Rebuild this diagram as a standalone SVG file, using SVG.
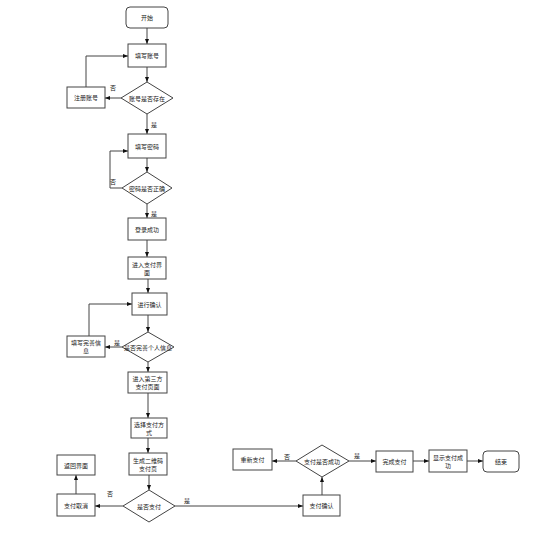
<svg xmlns="http://www.w3.org/2000/svg" width="554" height="534" viewBox="0 0 554 534">
<style>
.n{fill:#fff;stroke:#444;stroke-width:1}
.t{font-family:"Noto Sans CJK SC","Noto Sans",sans-serif;font-size:6px;fill:#222;text-anchor:middle;dominant-baseline:central}
.e{fill:none;stroke:#444;stroke-width:1}
.l{font-family:"Noto Sans CJK SC","Noto Sans",sans-serif;font-size:6px;fill:#222;text-anchor:middle;dominant-baseline:central}
</style>
<defs>
<marker id="a" viewBox="0 0 10 10" refX="10" refY="5" markerWidth="5" markerHeight="5" orient="auto" markerUnits="userSpaceOnUse">
<path d="M0,1 L10,5 L0,9 Z" fill="#111"/>
</marker>
</defs>
<rect width="554" height="534" fill="#fff"/>
<g id="edges">
<path class="e" d="M147,28 V44" marker-end="url(#a)"/>
<path class="e" d="M147,67 V82" marker-end="url(#a)"/>
<path class="e" d="M121,98 H105" marker-end="url(#a)"/>
<path class="e" d="M86,87 V56 H128" marker-end="url(#a)"/>
<path class="e" d="M147,114 V134" marker-end="url(#a)"/>
<path class="e" d="M147,158 V172" marker-end="url(#a)"/>
<path class="e" d="M122,188 H110 V151 H128" marker-end="url(#a)"/>
<path class="e" d="M147,204 V218" marker-end="url(#a)"/>
<path class="e" d="M147,240 V257" marker-end="url(#a)"/>
<path class="e" d="M148,279 V293" marker-end="url(#a)"/>
<path class="e" d="M148,315 V332" marker-end="url(#a)"/>
<path class="e" d="M122,347 H105" marker-end="url(#a)"/>
<path class="e" d="M89,336 V304 H132" marker-end="url(#a)"/>
<path class="e" d="M148,362 V372" marker-end="url(#a)"/>
<path class="e" d="M148,393 V418" marker-end="url(#a)"/>
<path class="e" d="M148,438 V453" marker-end="url(#a)"/>
<path class="e" d="M149,475 V490" marker-end="url(#a)"/>
<path class="e" d="M123,506 H95" marker-end="url(#a)"/>
<path class="e" d="M76,494 V475" marker-end="url(#a)"/>
<path class="e" d="M175,506 H303" marker-end="url(#a)"/>
<path class="e" d="M322,495 V477" marker-end="url(#a)"/>
<path class="e" d="M296,461 H272" marker-end="url(#a)"/>
<path class="e" d="M349,461 H376" marker-end="url(#a)"/>
<path class="e" d="M413,461 H429" marker-end="url(#a)"/>
<path class="e" d="M467,461 H483" marker-end="url(#a)"/>
<text class="l" x="113" y="87">否</text>
<text class="l" x="154" y="124">是</text>
<text class="l" x="113" y="181">否</text>
<text class="l" x="154" y="213">是</text>
<text class="l" x="117" y="342">是</text>
<text class="l" x="110" y="493">否</text>
<text class="l" x="187" y="500">是</text>
<text class="l" x="287" y="456">否</text>
<text class="l" x="357" y="455">是</text>
</g>
<g id="start"><rect class="n" x="126" y="7" width="42" height="21" rx="4"/><text class="t" x="147" y="17.5">开始</text></g>
<g id="n1"><rect class="n" x="128" y="44" width="38" height="23"/><text class="t" x="147" y="55.5">填写账号</text></g>
<g id="d1"><polygon class="n" points="147,82 173,98 147,114 121,98"/><text class="t" x="147" y="98">账号是否存在</text></g>
<g id="n2"><rect class="n" x="67" y="87" width="38" height="21"/><text class="t" x="86" y="97.5">注册账号</text></g>
<g id="n3"><rect class="n" x="128" y="134" width="38" height="24"/><text class="t" x="147" y="146">填写密码</text></g>
<g id="d2"><polygon class="n" points="147,172 172,188 147,204 122,188"/><text class="t" x="147" y="188">密码是否正确</text></g>
<g id="n4"><rect class="n" x="128" y="218" width="38" height="22"/><text class="t" x="147" y="229">登录成功</text></g>
<g id="n5"><rect class="n" x="128" y="257" width="38" height="22"/><text class="t" x="147" y="264">进入支付界</text><text class="t" x="147" y="272">面</text></g>
<g id="n6"><rect class="n" x="132" y="293" width="35" height="22"/><text class="t" x="149.5" y="304">进行确认</text></g>
<g id="d3"><polygon class="n" points="148,332 174,347 148,362 122,347"/><text class="t" x="148" y="347">是否完善个人信息</text></g>
<g id="n7"><rect class="n" x="67" y="336" width="38" height="21"/><text class="t" x="86" y="342.5">填写完善信</text><text class="t" x="86" y="350.5">息</text></g>
<g id="n8"><rect class="n" x="128" y="372" width="39" height="21"/><text class="t" x="147.5" y="378.5">进入第三方</text><text class="t" x="147.5" y="386.5">支付页面</text></g>
<g id="n9"><rect class="n" x="131" y="418" width="36" height="20"/><text class="t" x="149" y="424">选择支付方</text><text class="t" x="149" y="432">式</text></g>
<g id="n10"><rect class="n" x="129" y="453" width="38" height="22"/><text class="t" x="148" y="460">生成二维码</text><text class="t" x="148" y="468">支付页</text></g>
<g id="d4"><polygon class="n" points="149,490 175,506 149,522 123,506"/><text class="t" x="149" y="506">是否支付</text></g>
<g id="n11"><rect class="n" x="57" y="494" width="38" height="22"/><text class="t" x="76" y="505">支付取消</text></g>
<g id="n12"><rect class="n" x="57" y="455" width="38" height="20"/><text class="t" x="76" y="465">返回界面</text></g>
<g id="n13"><rect class="n" x="303" y="495" width="37" height="21"/><text class="t" x="321.5" y="505.5">支付确认</text></g>
<g id="d5"><polygon class="n" points="322,445 349,461 322,477 296,461"/><text class="t" x="322" y="461">支付是否成功</text></g>
<g id="n14"><rect class="n" x="233" y="449" width="39" height="21"/><text class="t" x="252.5" y="459.5">重新支付</text></g>
<g id="n15"><rect class="n" x="376" y="451" width="37" height="21"/><text class="t" x="394.5" y="461.5">完成支付</text></g>
<g id="n16"><rect class="n" x="429" y="450" width="38" height="22"/><text class="t" x="448" y="457">显示支付成</text><text class="t" x="448" y="465">功</text></g>
<g id="end"><rect class="n" x="483" y="451" width="36" height="21" rx="4"/><text class="t" x="501" y="461.5">结束</text></g>
</svg>
